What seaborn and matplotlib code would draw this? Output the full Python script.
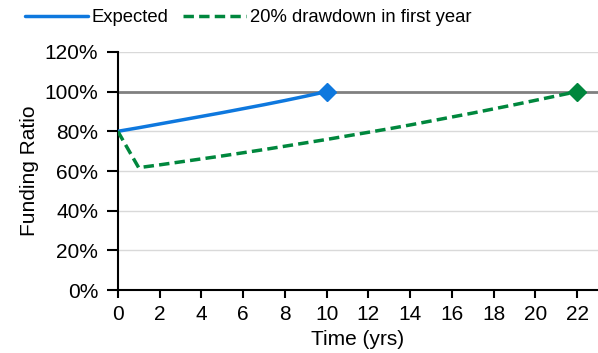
import numpy as np
import pandas as pd
import matplotlib
matplotlib.use("Agg")
import matplotlib.pyplot as plt
import seaborn as sns
from matplotlib.ticker import FuncFormatter

# data
years_expected = [0, 1, 2, 3, 4, 5, 6, 7, 8, 9, 10]
ratio_expected = [80.0, 81.8, 83.7, 85.6, 87.5, 89.4, 91.4, 93.4, 95.5, 97.7, 100.0]

years_drawdown = [0, 1, 2, 3, 4, 5, 6, 7, 8, 9, 10, 11, 12, 13, 14, 15, 16, 17, 18, 19, 20, 21, 22]
ratio_drawdown = [80.0, 61.7, 63.1, 64.6, 66.1, 67.6, 69.2, 70.8, 72.5, 74.2, 75.9, 77.7, 79.5,
                  81.3, 83.2, 85.2, 87.2, 89.2, 91.3, 93.4, 95.6, 97.8, 100.0]

blue = "#0e78de"
green = "#00873d"

sns.set_style("white")
plt.rcParams['font.family'] = ['Liberation Sans', 'DejaVu Sans']
plt.rcParams['font.size'] = 15
plt.rcParams['text.color'] = 'black'
plt.rcParams['axes.labelcolor'] = 'black'
plt.rcParams['xtick.color'] = 'black'
plt.rcParams['ytick.color'] = 'black'

exp_df = pd.DataFrame({"Time": years_expected, "Ratio": ratio_expected})
dd_df = pd.DataFrame({"Time": years_drawdown, "Ratio": ratio_drawdown})

fig = plt.figure(figsize=(5.98, 3.53), dpi=100)
ax = fig.add_axes([0.197, 0.178, 0.803, 0.675])

for y in [20, 40, 60, 80, 120]:
    ax.axhline(y, color="#d9d9d9", lw=1, zorder=0)
ax.axhline(100, color="#808080", lw=2, zorder=1)

sns.lineplot(x="Time", y="Ratio", data=exp_df, color=blue, lw=2.5, ax=ax,
             label="Expected", zorder=3)
sns.lineplot(x="Time", y="Ratio", data=dd_df, color=green, lw=2.5, ls=(0, (3, 1.5)), ax=ax,
             label="20% drawdown in first year", zorder=3)
ax.plot(years_expected[-1], ratio_expected[-1], marker="D", ms=9, color=blue, zorder=4)
ax.plot(years_drawdown[-1], ratio_drawdown[-1], marker="D", ms=9, color=green, zorder=4)

ax.set_xlim(0, 23)
ax.set_ylim(0, 120)
ax.set_xticks(range(0, 23, 2))
ax.set_yticks(range(0, 121, 20))
ax.yaxis.set_major_formatter(FuncFormatter(lambda v, p: f"{v:.0f}%"))
ax.set_xlabel("Time (yrs)", fontsize=15, labelpad=4)
ax.set_ylabel("Funding Ratio", fontsize=15, labelpad=4)

for s in ["top", "right"]:
    ax.spines[s].set_visible(False)
for s in ["left", "bottom"]:
    ax.spines[s].set_color("black")
    ax.spines[s].set_linewidth(1.5)
ax.tick_params(axis="y", direction="out", length=8, width=1.5, color="black",
               labelcolor="black", labelsize=15, pad=6, left=True)
ax.tick_params(axis="x", direction="out", length=6, width=1.5, color="black",
               labelcolor="black", labelsize=15, pad=5, bottom=True)

leg = ax.legend(loc="center", bbox_to_anchor=(0.272, 1.143), ncol=2, frameon=False,
                handlelength=3.4, handletextpad=0.2, columnspacing=0.8, fontsize=13.3,
                borderaxespad=0)
for t in leg.get_texts():
    t.set_color("black")

fig.savefig("out.png", dpi=100)
